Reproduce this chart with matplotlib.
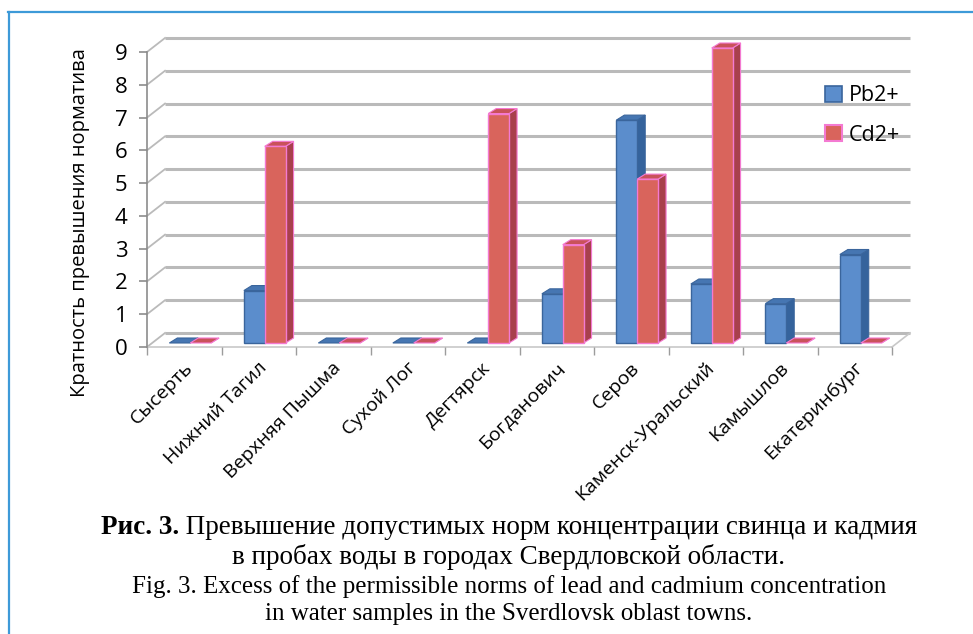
import numpy as np
import matplotlib
matplotlib.use("Agg")
import matplotlib.pyplot as plt
from matplotlib.patches import Polygon, Patch
from matplotlib.lines import Line2D

# towns and exceedance multiples (times the permissible norm)
towns = ['Сысерть', 'Нижний Тагил', 'Верхняя Пышма', 'Сухой Лог', 'Дегтярск',
         'Богданович', 'Серов', 'Каменск-Уральский', 'Камышлов', 'Екатеринбург']
pb = [0, 1.6, 0, 0, 0, 1.5, 6.8, 1.8, 1.2, 2.7]
cd = [0, 6, 0, 0, 7, 3, 5, 9, 0, 0]
series_names = ['Pb2+', 'Cd2+']
yticks = list(range(10))

caption_bold = 'Рис. 3.'
caption_ru1 = ' Превышение допустимых норм концентрации свинца и кадмия'
caption_ru2 = 'в пробах воды в городах Свердловской области.'
caption_en1 = 'Fig. 3. Excess of the permissible norms of lead and cadmium concentration'
caption_en2 = 'in water samples in the Sverdlovsk oblast towns.'

sans = ['Open Sans', 'DejaVu Sans']
serif = ['Liberation Serif', 'DejaVu Serif']

W, H = 973, 634
fig = plt.figure(figsize=(W / 100, H / 100), dpi=100)
fig.patch.set_facecolor('white')

# front plane of the 3d box
x0, x1, y0, y1 = 147, 892, 347, 52
ax = fig.add_axes([x0 / W, 1 - y0 / H, (x1 - x0) / W, (y0 - y1) / H])
ax.set_xlim(0, len(towns))
ax.set_ylim(0, 9)
ax.patch.set_alpha(0)

# depth of the box and of the bars, in data units
px_x = len(towns) / (x1 - x0)
px_y = 9 / (y0 - y1)
DX, DY = 18 * px_x, 14 * px_y
bdx, bdy = 8 * px_x, 5 * px_y
base = 4 * px_y

grid_c = '#bababa'
# back wall gridlines and the side wall diagonals
for v in yticks:
    ax.plot([DX, len(towns) + DX], [v + DY, v + DY], color=grid_c, lw=2.2,
            solid_capstyle='butt', zorder=1, clip_on=False)
    ax.plot([0, DX], [v, v + DY], color=grid_c, lw=1.3, zorder=1, clip_on=False)
# floor edges
ax.plot([0, len(towns)], [0, 0], color='#c8c8c8', lw=1.2, zorder=1, clip_on=False)
ax.plot([len(towns), len(towns) + DX], [0, DY], color='#c8c8c8', lw=1.2, zorder=1,
        clip_on=False)

pb_style = dict(front='#5b8dcc', side='#35639c', top='#4676b2', edge='#3a659c')
cd_style = dict(front='#d9645c', side='#a8404c', top='#c9525a', edge='#f47ad2')

def draw_bar(left, width, value, st, z):
    top = base + value
    side = Polygon([(left + width, base), (left + width, top),
                    (left + width + bdx, top + bdy), (left + width + bdx, base + bdy)],
                   closed=True, facecolor=st['side'], edgecolor=st['edge'], lw=0.8,
                   zorder=z, clip_on=False)
    cap = Polygon([(left, top), (left + width, top), (left + width + bdx, top + bdy),
                   (left + bdx, top + bdy)],
                  closed=True, facecolor=st['top'], edgecolor=st['edge'], lw=0.8,
                  zorder=z, clip_on=False)
    ax.add_patch(side)
    ax.add_patch(cap)
    if value > 0:
        bars = ax.bar(left, value, width=width, bottom=base, align='edge',
                      color=st['front'], edgecolor=st['edge'], linewidth=1.0, zorder=z)
        for b in bars:
            b.set_clip_on(False)

bw = 0.28
for i in range(len(towns)):
    draw_bar(i + 0.30, bw, pb[i], pb_style, 3 + 2 * i)
    draw_bar(i + 0.30 + bw, bw, cd[i], cd_style, 4 + 2 * i)

# axes lines and ticks
for s in ['top', 'right', 'bottom']:
    ax.spines[s].set_visible(False)
ax.spines['left'].set_color('#8c8c8c')
ax.spines['left'].set_linewidth(1.2)
ax.set_yticks(yticks)
ax.set_xticks(range(len(towns) + 1))
ax.set_xticklabels([])
ax.tick_params(axis='y', length=6, width=1.2, color='#8c8c8c', pad=8, labelsize=16)
ax.tick_params(axis='x', length=6, width=1.0, color='#9c9c9c', direction='out')
for lab in ax.get_yticklabels():
    lab.set_family(sans)

for i, name in enumerate(towns):
    ax.text(i + 0.57, -0.55, name, rotation=45, ha='right', va='center',
            rotation_mode='anchor', fontsize=14, family=sans, color='black')

fig.text(80 / W, 1 - 223 / H, 'Кратность превышения норматива', rotation=90,
         ha='center', va='center', fontsize=14.5, family=sans)

handles = [Patch(facecolor=pb_style['front'], edgecolor=pb_style['edge'], lw=1.2),
           Patch(facecolor=cd_style['front'], edgecolor=cd_style['edge'], lw=1.5)]
fig.legend(handles, series_names, loc='upper left',
           bbox_to_anchor=(806 / W, 1 - 66 / H), frameon=False,
           prop={'family': sans, 'size': 15.5}, handlelength=0.75, handleheight=0.75,
           handletextpad=0.35, labelspacing=0.85)

# caption, first line mixes bold and regular text
renderer = fig.canvas.get_renderer()
cx = 509 / W
tb = fig.text(0, 1 - 527 / H, caption_bold, fontsize=19.5, family=serif,
              weight='bold', va='center', ha='left')
tr = fig.text(0, 1 - 527 / H, caption_ru1, fontsize=19.5, family=serif,
              va='center', ha='left')
wb = tb.get_window_extent(renderer).width / W
wr = tr.get_window_extent(renderer).width / W
start = cx - (wb + wr) / 2
tb.set_x(start)
tr.set_x(start + wb)
fig.text(cx, 1 - 557 / H, caption_ru2, fontsize=19.5, family=serif, ha='center',
         va='center')
fig.text(cx, 1 - 587 / H, caption_en1, fontsize=18, family=serif, ha='center', va='center')
fig.text(cx, 1 - 614 / H, caption_en2, fontsize=18, family=serif, ha='center', va='center')

# blue page frame
frame_c = '#3d9ad8'
fig.add_artist(Line2D([8.5 / W, 8.5 / W], [0, 1 - 12 / H], transform=fig.transFigure,
                      color=frame_c, lw=1.6))
fig.add_artist(Line2D([8 / W, 1], [1 - 12 / H, 1 - 12 / H], transform=fig.transFigure,
                      color=frame_c, lw=1.6))

fig.savefig('out.png', dpi=100, facecolor='white')
